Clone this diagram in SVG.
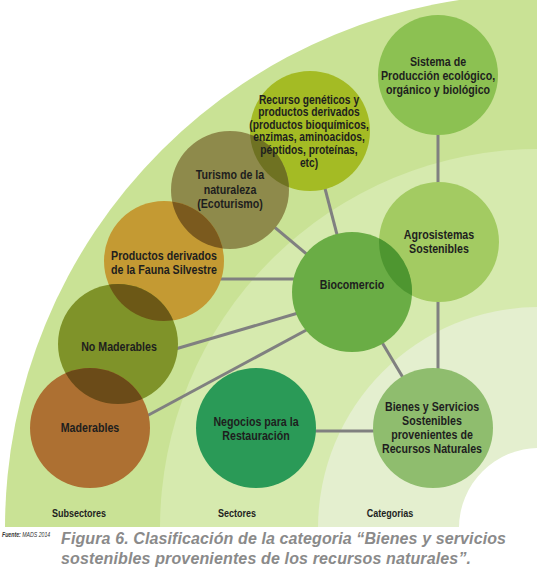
<svg xmlns="http://www.w3.org/2000/svg" width="539" height="582" viewBox="0 0 539 582">
<style>
.lbl{font-family:'Liberation Sans',Arial,sans-serif;font-weight:bold;font-size:13px;fill:#1e1e1e;text-anchor:middle}
.sm{font-size:12.5px}
.axis{font-size:11px}
.cap{font-family:'Liberation Sans',Arial,sans-serif;font-weight:bold;font-style:italic;font-size:16px;fill:#8a8a8a}
.src{font-family:'Liberation Sans',Arial,sans-serif;font-style:italic;font-size:6.5px;fill:#333}
.con line{stroke:#808080;stroke-width:3}
</style>
<defs>
<clipPath id="bg"><rect x="0" y="0" width="537" height="527"/></clipPath>
<clipPath id="cTur"><circle cx="230" cy="190" r="59"/></clipPath>
<clipPath id="cPro"><circle cx="164" cy="261" r="60"/></clipPath>
<clipPath id="cNoM"><circle cx="118" cy="344" r="60"/></clipPath>
<clipPath id="cMad"><circle cx="90" cy="428" r="60"/></clipPath>
<clipPath id="cBio"><circle cx="352" cy="292" r="60"/></clipPath>
</defs>
<g id="background" clip-path="url(#bg)">
<circle cx="539" cy="528" r="534" fill="#c9e295"/>
<circle cx="539" cy="528" r="379" fill="#d6eaae"/>
<circle cx="539" cy="528" r="221" fill="#e4efcf"/>
<circle cx="539" cy="528" r="80" fill="#ffffff"/>
</g>
<g id="connectors" class="con">
<line x1="438" y1="130" x2="438" y2="186"/>
<line x1="438" y1="298" x2="438" y2="372"/>
<line x1="352" y1="292" x2="433" y2="428"/>
<line x1="310" y1="431" x2="378" y2="431"/>
<line x1="310" y1="131" x2="352" y2="292"/>
<line x1="230" y1="190" x2="352" y2="292"/>
<line x1="215" y1="279" x2="300" y2="279"/>
<line x1="172" y1="350" x2="305" y2="311"/>
<line x1="143" y1="418" x2="312" y2="327"/>
</g>
<g id="sistema"><circle cx="438" cy="75" r="60" fill="#8cc152"/>
<g transform="translate(438,0) scale(0.82,1)"><text class="lbl"><tspan x="0" y="66.5">Sistema de</tspan><tspan x="0" y="80.5">Producción ecológico,</tspan><tspan x="0" y="94.5">orgánico y biológico</tspan></text></g></g>
<g id="agrosistemas"><circle cx="439" cy="242" r="60" fill="#a3cb62"/></g>
<g id="bienes"><circle cx="433" cy="428" r="60" fill="#8fbd6e"/>
<g transform="translate(432,0) scale(0.82,1)"><text class="lbl"><tspan x="0" y="411">Bienes y Servicios</tspan><tspan x="0" y="425">Sostenibles</tspan><tspan x="0" y="439">provenientes de</tspan><tspan x="0" y="453">Recursos Naturales</tspan></text></g></g>
<g id="biocomercio"><circle cx="352" cy="292" r="60" fill="#6aad45"/>
<circle cx="439" cy="242" r="60" fill="#4e9630" clip-path="url(#cBio)"/>
<g transform="translate(352,0) scale(0.82,1)"><text class="lbl" x="0" y="289.5">Biocomercio</text></g></g>
<g id="agrosistemas-label"><g transform="translate(439,0) scale(0.82,1)"><text class="lbl"><tspan x="0" y="239">Agrosistemas</tspan><tspan x="0" y="253">Sostenibles</tspan></text></g></g>
<g id="negocios"><circle cx="256" cy="428" r="60" fill="#2a9a57"/>
<g transform="translate(256,0) scale(0.82,1)"><text class="lbl"><tspan x="0" y="426.5">Negocios para la</tspan><tspan x="0" y="440.5">Restauración</tspan></text></g></g>
<g id="recurso"><circle cx="310" cy="131" r="60" fill="#a4bb24"/></g>
<g id="turismo"><circle cx="230" cy="190" r="59" fill="#8e8a4b"/>
<circle cx="310" cy="131" r="60" fill="#6f7222" clip-path="url(#cTur)"/></g>
<g id="productos"><circle cx="164" cy="261" r="60" fill="#c49a33"/>
<circle cx="230" cy="190" r="59" fill="#7b5a1e" clip-path="url(#cPro)"/></g>
<g id="nomaderables"><circle cx="118" cy="344" r="60" fill="#7f9329"/>
<circle cx="164" cy="261" r="60" fill="#6c5816" clip-path="url(#cNoM)"/></g>
<g id="maderables"><circle cx="90" cy="428" r="60" fill="#ad7032"/>
<circle cx="118" cy="344" r="60" fill="#6b4b18" clip-path="url(#cMad)"/></g>
<g id="labels">
<g transform="translate(309,0) scale(0.82,1)"><text class="lbl sm"><tspan x="0" y="104">Recurso genéticos y</tspan><tspan x="0" y="116.5">productos derivados</tspan><tspan x="0" y="129">(productos bioquímicos,</tspan><tspan x="0" y="141.5">enzimas, aminoacidos,</tspan><tspan x="0" y="154">péptidos, proteínas,</tspan><tspan x="0" y="167">etc)</tspan></text></g>
<g transform="translate(230,0) scale(0.82,1)"><text class="lbl"><tspan x="0" y="179.5">Turismo de la</tspan><tspan x="0" y="194">naturaleza</tspan><tspan x="0" y="208">(Ecoturismo)</tspan></text></g>
<g transform="translate(164,0) scale(0.82,1)"><text class="lbl"><tspan x="0" y="260">Productos derivados</tspan><tspan x="0" y="274">de la Fauna Silvestre</tspan></text></g>
<g transform="translate(119,0) scale(0.82,1)"><text class="lbl" x="0" y="351.5">No Maderables</text></g>
<g transform="translate(90,0) scale(0.82,1)"><text class="lbl" x="0" y="432.5">Maderables</text></g>
<g transform="translate(79,0) scale(0.82,1)"><text class="lbl axis" x="0" y="517">Subsectores</text></g>
<g transform="translate(237,0) scale(0.82,1)"><text class="lbl axis" x="0" y="517">Sectores</text></g>
<g transform="translate(390,0) scale(0.82,1)"><text class="lbl axis" x="0" y="517">Categorias</text></g>
</g>
<g id="caption">
<g transform="translate(2,0) scale(0.8,1)"><text class="src" x="0" y="537"><tspan font-weight="bold">Fuente:</tspan> MADS 2014</text></g>
<text class="cap"><tspan x="61" y="544" textLength="445" lengthAdjust="spacing">Figura 6. Clasificación de la categoria “Bienes y servicios</tspan><tspan x="61" y="564" textLength="410" lengthAdjust="spacing">sostenibles provenientes de los recursos naturales”.</tspan></text>
</g>
</svg>
